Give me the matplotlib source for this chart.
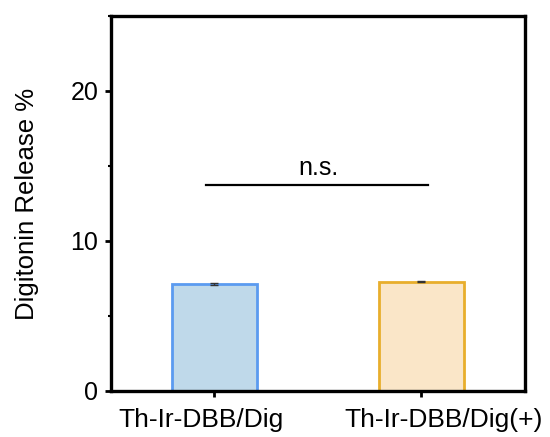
import matplotlib
matplotlib.use("Agg")
import matplotlib.pyplot as plt
from matplotlib.ticker import MultipleLocator
from matplotlib.transforms import ScaledTranslation

plt.rcParams["font.family"] = ["Liberation Sans", "DejaVu Sans"]

groups = ["Th-Ir-DBB/Dig", "Th-Ir-DBB/Dig(+)"]
release = [7.13, 7.29]
errors = [0.05, 0.05]
face_colors = ["#bfd9ea", "#fae6c8"]
edge_colors = ["#5b9bf0", "#e8ae2c"]
sig_y = 13.7
sig_text = "n.s."

fig = plt.figure(figsize=(5.5, 4.37), dpi=100)
ax = fig.add_axes([0.2018, 0.1053, 0.7527, 0.8581])

x = range(len(groups))
ax.bar(x, release, width=0.41, color=face_colors, edgecolor=edge_colors,
       linewidth=2, zorder=2)
ax.errorbar(x, release, yerr=errors, fmt="none", ecolor="#333333",
            elinewidth=1, capsize=3, capthick=1, zorder=3)

# significance line
ax.plot([-0.04, 1.03], [sig_y, sig_y], color="black", lw=1.6)
ax.text(0.5, sig_y + 0.7, sig_text, ha="center", va="baseline", fontsize=18)

ax.set_xlim(-0.5, 1.5)
ax.set_ylim(0, 25)
ax.set_xticks(list(x))
ax.set_xticklabels(groups, fontsize=19)
ax.yaxis.set_major_locator(MultipleLocator(10))
ax.yaxis.set_minor_locator(MultipleLocator(5))
ax.tick_params(axis="both", which="major", direction="out", length=4, width=2)
ax.tick_params(axis="x", pad=8.5)
ax.tick_params(axis="y", labelsize=18, pad=5)
ax.tick_params(axis="y", which="minor", direction="out", length=2.5, width=1.5)
ax.set_ylabel("Digitonin Release %", fontsize=18.5)
ax.yaxis.set_label_coords(-0.175, 0.5)
for s in ax.spines.values():
    s.set_linewidth(2.4)

# labels in the original sit off-centre from their ticks
for lab, dx in zip(ax.get_xticklabels(), [-10, 16]):
    lab.set_transform(lab.get_transform() + ScaledTranslation(dx / 72, 0, fig.dpi_scale_trans))

fig.savefig("out.png", dpi=100)
